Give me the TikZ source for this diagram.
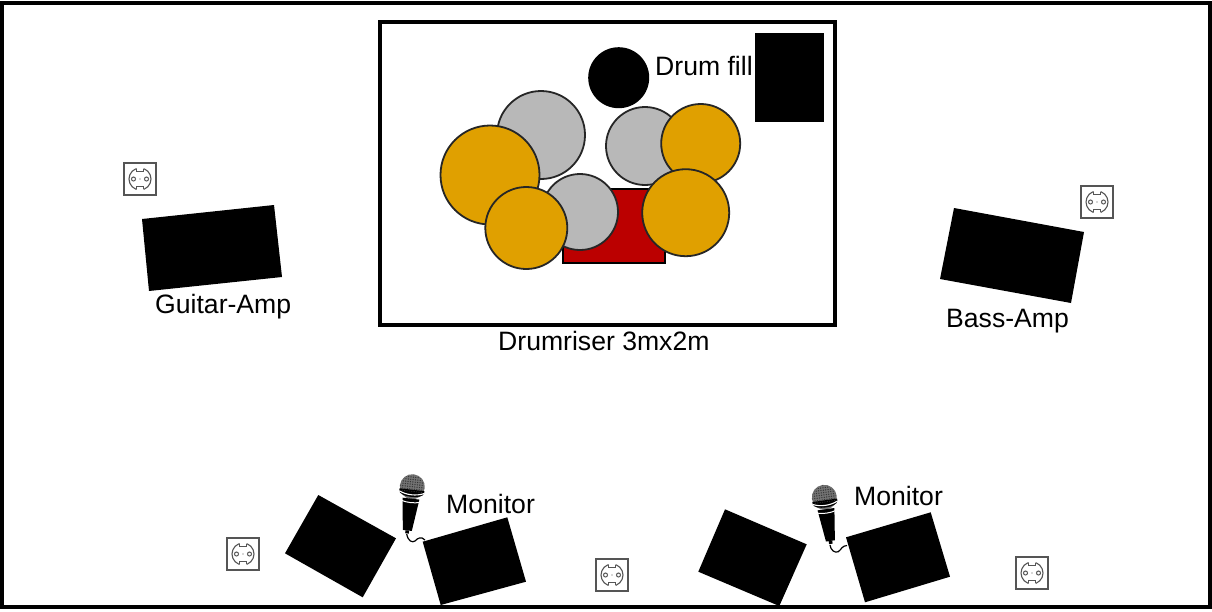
\documentclass[tikz,border=0pt]{standalone}
\usepackage{fontspec}
\setmainfont{Liberation Sans}
\definecolor{drumorange}{HTML}{E0A000}
\definecolor{drumgray}{HTML}{B8B8B8}
\definecolor{drumred}{HTML}{BB0000}
\definecolor{sockline}{HTML}{555555}
\tikzset{
  x=1pt,y=-1pt,
  frameline/.style={draw=black,line width=3.2pt,fill=white},
  blackbox/.style={fill=black,draw=none},
  drumo/.style={fill=drumorange,draw=black!85,line width=1.8pt},
  drumg/.style={fill=drumgray,draw=black!85,line width=1.8pt},
  lab/.style={font=\fontsize{26.6}{30}\selectfont,inner sep=0pt,anchor=base west,text=black},
  cable/.style={draw=black,line width=1.2pt},
  sockpic/.pic={
    \draw[sockline,line width=1.3pt,fill=white] (-16,-16) rectangle (16,16);
    \draw[sockline,line width=1.1pt] (0,0) circle[radius=11];
    \fill[white] (-3.5,-12) rectangle (3.5,-7.5) (-3.5,7.5) rectangle (3.5,12);
    \draw[sockline,line width=1.1pt] (-3.5,-10.4) -- (-3.5,-7.5) -- (3.5,-7.5) -- (3.5,-10.4);
    \draw[sockline,line width=1.1pt] (-3.5,10.4) -- (-3.5,7.5) -- (3.5,7.5) -- (3.5,10.4);
    \draw[sockline,line width=1pt] (-6.5,0) circle[radius=2] (6.5,0) circle[radius=2];
    \fill[sockline] (0,0) circle[radius=.6];
  },
  micpic/.pic={
    \fill[black!55] (0,0) circle[radius=12.5];
    \fill[black] (-12.5,3) -- (12.5,3) -- (12.5,5) .. controls (12.5,12) and (-12.5,12) .. (-12.5,5) -- cycle;
    \begin{scope}
      \clip (0,0) circle[radius=12];
      \clip (-13,-13) rectangle (13,5);
      \foreach \i in {-12,-9.6,...,12}{\foreach \j in {-12,-9.6,...,6}{\fill[black!80] (\i,\j) circle[radius=.7];}}
    \end{scope}
    \draw[white,line width=1.1pt] (-12.5,5.5) .. controls (-5,9) and (5,9) .. (12.5,5.5);
    \fill[black] (-8.5,12) -- (8.5,12) -- (4.5,44) -- (-4.5,44) -- cycle;
    \fill[black] (-1.8,44) rectangle (1.8,47);
    \draw[white,line width=1pt] (-10,14.5) .. controls (-4,16.5) and (4,16.5) .. (10,14.5);
  }
}
\begin{document}
\begin{tikzpicture}
\useasboundingbox (0,0) rectangle (1212,611);
\fill[white] (0,0) rectangle (1212,611);
\draw[black,line width=3.5pt] (2,3) rectangle (1210,607);
\draw[frameline] (380,22) rectangle (835,325);
% drums
\fill[black] (618.7,77.7) circle[radius=30.5];
\fill[black] (755,33.3) rectangle (823.7,121.7);
\draw[drumg] (541,135) circle[radius=44];
\draw[drumo] (490,175) circle[radius=49.5];
\draw[drumg] (645,146) circle[radius=39];
\draw[drumo] (700.7,143.5) circle[radius=39.5];
\draw[fill=drumred,draw=black,line width=2.8pt] (563,189) rectangle (665,263);
\draw[drumg] (580,212) circle[radius=38];
\draw[drumo] (526.3,228) circle[radius=41];
\draw[drumo] (685.7,212.7) circle[radius=43.5];
% amps and monitors
\fill[blackbox] (142,219) -- (274,205) -- (282,277) -- (149,291) -- cycle;
\fill[blackbox] (954,208) -- (1084,232) -- (1071,303) -- (940,279) -- cycle;
\fill[blackbox] (318.3,495) -- (396,538.3) -- (362.7,597.3) -- (285,553.3) -- cycle;
\fill[blackbox] (422.7,541.7) -- (507.3,517.3) -- (526,581.7) -- (440.7,605) -- cycle;
\fill[blackbox] (725,509.3) -- (806.7,544.3) -- (779.3,606) -- (698.3,571.7) -- cycle;
\fill[blackbox] (846,537.3) -- (930.7,512.3) -- (950,576.7) -- (865,602.3) -- cycle;
% sockets
\pic at (140,179) {sockpic};
\pic at (1097,202) {sockpic};
\pic at (243,554) {sockpic};
\pic at (612,575) {sockpic};
\pic at (1032,573) {sockpic};
% mics
\pic[rotate=-6.5] at (412.3,486.7) {micpic};
\pic[rotate=8] at (824.3,497.3) {micpic};
\draw[cable] (406.7,534) .. controls (408,541) and (412,543) .. (415,541) .. controls (418,538) and (421,536) .. (425,540);
\draw[cable] (830,545) .. controls (830.5,550) and (835,553.5) .. (838.3,551.7) .. controls (841,550) and (842,545.5) .. (847,545.5);
% labels
\node[lab] (drumfill) at (655,75) {Drum fill};
\node[lab] (guitar) at (155,313) {Guitar-Amp};
\node[lab] (riser) at (498,350) {Drumriser 3mx2m};
\node[lab] (bass) at (946,327) {Bass-Amp};
\node[lab] (mon1) at (446,513) {Monitor};
\node[lab] (mon2) at (854,505) {Monitor};
\end{tikzpicture}
\end{document}
